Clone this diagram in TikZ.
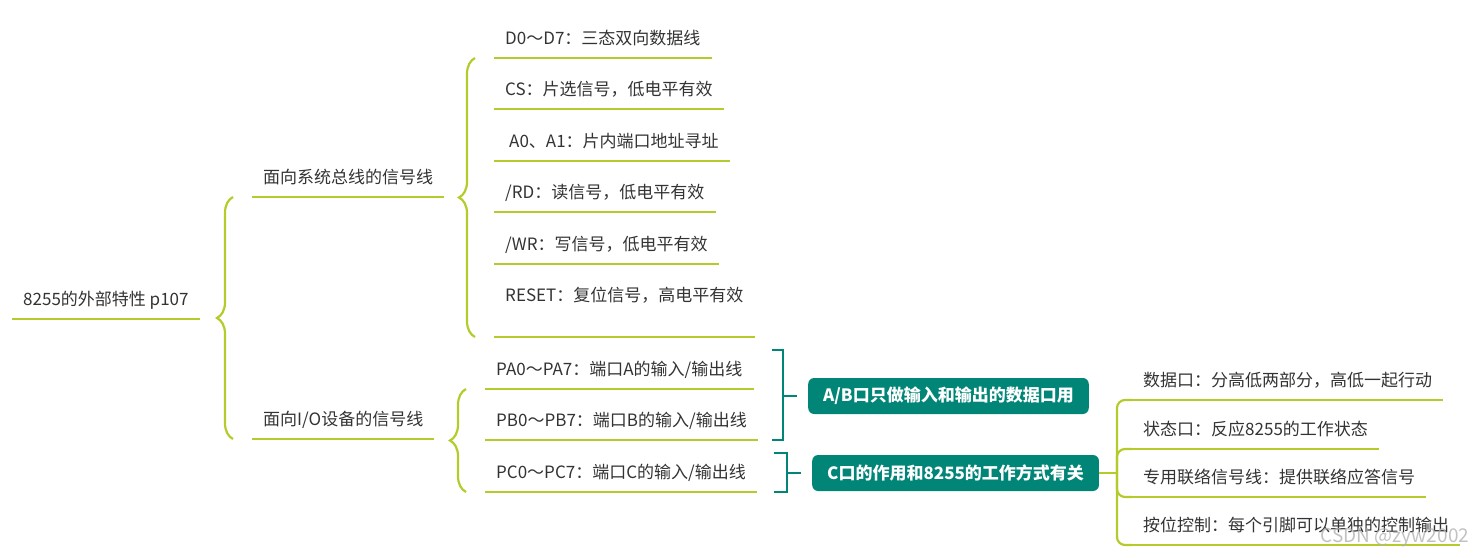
\documentclass[tikz,border=0pt]{standalone}
\usepackage{fontspec}
\setmainfont{Noto Sans CJK SC}
\usetikzlibrary{decorations.pathreplacing}
\definecolor{mylime}{HTML}{B5CB2B}
\definecolor{myteal}{HTML}{008577}
\definecolor{mytext}{HTML}{333333}

\begin{document}
\begin{tikzpicture}[x=1pt,y=-1pt]
	\tikzset{% style settings for topics and lines
		topic/.style={anchor=south west,inner xsep=11pt,inner ysep=9pt,text height=17pt,text depth=4pt,text=mytext,font=\fontsize{17}{20}\selectfont},
		tealbox/.style={anchor=west,rounded corners=6pt,fill=myteal,text=white,inner xsep=15pt,minimum height=36pt,font=\fontsize{17}{20}\selectfont\bfseries},
		branch/.style={draw=mylime,line width=2.2pt},
		curly/.style={branch,decorate,decoration={brace,amplitude=16pt}},
		bracket/.style={draw=myteal,line width=2.2pt}}
	\useasboundingbox (0,0) rectangle (1483,557);

	\node[topic] (root) at (12,319) {8255的外部特性 p107};
	\node[topic] (sys) at (252,197) {面向系统总线的信号线};
	\node[topic] (io) at (252,439) {面向I/O设备的信号线};

	\node[topic] (d07) at (494,58) {D0～D7：三态双向数据线};
	\node[topic] (cs) at (494,109) {CS：片选信号，低电平有效};
	\node[topic] (a01) at (494,161) {\hspace*{4pt}A0、A1：片内端口地址寻址};
	\node[topic] (rd) at (494,212) {/RD：读信号，低电平有效};
	\node[topic] (wr) at (494,264) {/WR：写信号，低电平有效};
	\node[topic,text depth=26pt] (reset) at (494,337) {RESET：复位信号，高电平有效};

	\node[topic] (pa) at (485,389) {PA0～PA7：端口A的输入/输出线};
	\node[topic] (pb) at (485,440) {PB0～PB7：端口B的输入/输出线};
	\node[topic] (pc) at (485,492) {PC0～PC7：端口C的输入/输出线};

	\node[tealbox] (ab) at (808,396) {A/B口只做输入和输出的数据口用};
	\node[tealbox] (cmode) at (812,473) {C口的作用和8255的工作方式有关};

	\node[topic] (dport) at (1132,400) {数据口：分高低两部分，高低一起行动};
	\node[topic] (sport) at (1132,449) {状态口：反应8255的工作状态};
	\node[topic] (lport) at (1132,497) {专用联络信号线：提供联络应答信号};
	\node[topic] (bport) at (1132,545) {按位控制：每个引脚可以单独的控制输出};

	% underlines
	\foreach \n in {root,sys,io,d07,cs,a01,rd,wr,reset,pa,pb,pc,dport,sport,lport,bport}
		\draw[branch] (\n.south west) -- (\n.south east);

	% braces
	\draw[curly] ([xshift=-19pt]io.south west) -- ([xshift=-19pt]sys.south west);
	\draw[curly] ([xshift=-19pt]reset.south west) -- ([xshift=-19pt]d07.south west);
	\draw[curly] ([xshift=-19pt]pc.south west) -- ([xshift=-19pt]pa.south west);

	% teal brackets
	\coordinate (abv) at ([xshift=-25pt]ab.west);
	\coordinate (cv) at ([xshift=-25pt]cmode.west);
	\draw[bracket] (abv |- pa.north) ++(-11,0) -- (abv |- pa.north) -- (abv |- pb.south) -- ++(-11,0);
	\draw[bracket] (abv) -- ([xshift=-11pt]ab.west);
	\draw[bracket] (cv |- pc.north) ++(-13,0) -- (cv |- pc.north) -- (cv |- pc.south) -- ++(-13,0);
	\draw[bracket] (cv) -- ([xshift=-11pt]cmode.west);

	% tree on the right
	\coordinate (tx) at ([xshift=-15pt]dport.south west);
	\coordinate (cj) at (tx |- cmode.east);
	\draw[branch] (cmode.east) -- (cj);
	\foreach \n in {dport,sport,lport,bport}
		\draw[branch,rounded corners=8pt] (cj) |- (\n.south west);

	\node[text=gray!60,opacity=0.8,font=\fontsize{19}{22}\selectfont] (mark) at (1395,538) {CSDN @zyw2002};
\end{tikzpicture}
\end{document}
